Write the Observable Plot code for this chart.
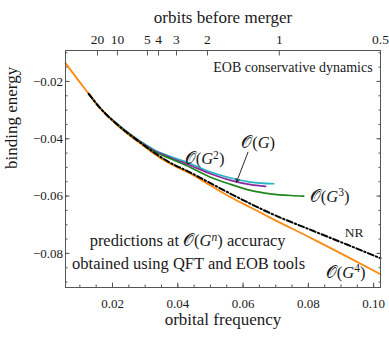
<!DOCTYPE html>
<html><head><meta charset="utf-8">
<script src="https://cdn.jsdelivr.net/npm/d3@7"></script>
<script src="https://cdn.jsdelivr.net/npm/@observablehq/plot@0.6"></script>
<style>body{margin:0;background:#fff}</style>
</head><body><div id="chart"></div>
<script>
// ---- data ----
const freqTicks = [0.02, 0.04, 0.06, 0.08, 0.10];
const energyTicks = [-0.02, -0.04, -0.06, -0.08];
const orbitLabels = ["20", "10", "5", "4", "3", "2", "1", "0.5"];
const orbitFreqs = [0.0154, 0.0215, 0.0307, 0.0341, 0.0396, 0.0491, 0.0711, 0.1021];

const g4Freq = [0.0056,0.0092,0.0127,0.0163,0.0204,0.0245,0.0286,0.0327,0.0368,0.0439,0.0500,0.0562,0.0623,0.0684,0.0816,0.0920,0.1021];
const g4E    = [-0.0136,-0.0191,-0.0243,-0.0295,-0.0342,-0.0382,-0.0417,-0.0452,-0.0482,-0.0522,-0.0563,-0.0604,-0.0640,-0.0676,-0.0751,-0.0812,-0.0873];

const nrFreq = [0.0127,0.0163,0.0204,0.0245,0.0286,0.0327,0.0368,0.0439,0.0500,0.0562,0.0623,0.0684,0.0816,0.0920,0.1021];
const nrE    = [-0.0243,-0.0294,-0.0340,-0.0379,-0.0414,-0.0448,-0.0478,-0.0518,-0.0555,-0.0592,-0.0627,-0.0660,-0.0722,-0.0770,-0.0817];

const g1Freq = [0.0127,0.0163,0.0204,0.0245,0.0286,0.0327,0.0378,0.0439,0.0500,0.0562,0.0623,0.0669];
const g1E    = [-0.0243,-0.0294,-0.0339,-0.0377,-0.0411,-0.0441,-0.0466,-0.0493,-0.0522,-0.0545,-0.0560,-0.0566];

const g2Freq = [0.0127,0.0163,0.0204,0.0245,0.0286,0.0327,0.0378,0.0439,0.0500,0.0562,0.0623,0.0694];
const g2E    = [-0.0243,-0.0294,-0.0338,-0.0376,-0.0409,-0.0438,-0.0462,-0.0487,-0.0516,-0.0537,-0.0551,-0.0557];

const g3Freq = [0.0127,0.0163,0.0204,0.0245,0.0286,0.0327,0.0378,0.0439,0.0500,0.0562,0.0623,0.0684,0.0746,0.0786];
const g3E    = [-0.0243,-0.0294,-0.0340,-0.0378,-0.0413,-0.0444,-0.0470,-0.0500,-0.0534,-0.0559,-0.0580,-0.0592,-0.0598,-0.0600];

// annotation texts
const labelTexts = ["EOB conservative dynamics", "predictions at 𝒪(G^n) accuracy", "obtained using QFT and EOB tools", "NR", "𝒪(G^4)", "𝒪(G^3)", "𝒪(G^2)", "𝒪(G)"];
// ---- end data ----

const series = (fx, ey) => fx.map((f, i) => ({f, e: ey[i]}));
const annPos = [
  {x: 0.0997, y: -0.0151, size: 14},
  {x: 0.0430, y: -0.0755, size: 16.5},
  {x: 0.0433, y: -0.0835, size: 16.5},
  {x: 0.0940, y: -0.0727, size: 13.5},
  {x: 0.0914, y: -0.0866, size: 16.5},
  {x: 0.0865, y: -0.0601, size: 16.5},
  {x: 0.0482, y: -0.0469, size: 16.5},
  {x: 0.0646, y: -0.0413, size: 16.5}
];
const ann = labelTexts.map((t, i) => ({t, ...annPos[i]}));
const arrowData = [{x1: 0.0615, y1: -0.0447, x2: 0.0580, y2: -0.0551}];

const minorX = d3.range(0.01, 0.1024, 0.005);
const minorY = d3.range(-0.09, -0.0092, 0.005);
const orbitMap = new Map(orbitFreqs.map((f, i) => [f, orbitLabels[i]]));
const fmt = d3.format(".2f");
const frameColor = "#555";
const txt = "#1a1a1a";
const serif = "'Liberation Serif', 'Times New Roman', serif";

const chart = Plot.plot({
  width: 389, height: 338,
  marginLeft: 65, marginRight: 9, marginTop: 50, marginBottom: 51,
  style: {fontFamily: serif, fontSize: "13px", color: txt, background: "#fff"},
  x: {domain: [0.0056, 0.1021]},
  y: {domain: [-0.0919, -0.0092]},
  marks: [
    Plot.line(series(g2Freq, g2E), {x: "f", y: "e", stroke: "#22b5c2", strokeWidth: 1.7, curve: "monotone-x"}),
    Plot.line(series(g1Freq, g1E), {x: "f", y: "e", stroke: "#8b2a9e", strokeWidth: 1.7, curve: "monotone-x"}),
    Plot.line(series(g3Freq, g3E), {x: "f", y: "e", stroke: "#1e861e", strokeWidth: 1.7, curve: "monotone-x"}),
    Plot.line(series(g4Freq, g4E), {x: "f", y: "e", stroke: "#ff8a12", strokeWidth: 1.8, curve: "monotone-x"}),
    Plot.line(series(nrFreq, nrE), {x: "f", y: "e", stroke: "#000", strokeWidth: 2, strokeDasharray: "6,2.5,1.5,2.5", curve: "monotone-x"}),
    Plot.arrow(arrowData, {x1: "x1", y1: "y1", x2: "x2", y2: "y2", stroke: "#111", strokeWidth: 0.9, headLength: 6}),
    Plot.text(ann.slice(0, 1), {x: "x", y: "y", text: "t", textAnchor: "end", fontSize: "size", fontFamily: serif, fill: txt}),
    Plot.text(ann.slice(1), {x: "x", y: "y", text: "t", textAnchor: "middle", fontSize: "size", fontFamily: serif, fill: txt}),
    Plot.frame({stroke: frameColor}),
    // bottom axis
    Plot.axisX(minorX, {anchor: "bottom", tickSize: -2.5, fill: "none", label: null, stroke: frameColor}),
    Plot.axisX(freqTicks, {anchor: "bottom", tickSize: -4.5, tickPadding: 15.5, tickFormat: fmt, label: null, stroke: frameColor, fill: txt, fontFamily: serif, fontSize: 13}),
    // top axis
    Plot.axisX(orbitFreqs, {anchor: "top", tickSize: -4.5, tickPadding: 11.5, tickFormat: d => orbitMap.get(d), label: null, stroke: frameColor, fill: txt, fontFamily: serif, fontSize: 13.5}),
    // left axis
    Plot.axisY(minorY, {anchor: "left", tickSize: -2.5, fill: "none", label: null, stroke: frameColor}),
    Plot.axisY(energyTicks, {anchor: "left", tickSize: -4.5, tickPadding: 7, tickFormat: fmt, label: null, stroke: frameColor, fill: txt, fontFamily: serif, fontSize: 13}),
    // right axis
    Plot.axisY(minorY, {anchor: "right", tickSize: -2.5, fill: "none", label: null, stroke: frameColor}),
    Plot.axisY(energyTicks, {anchor: "right", tickSize: -4.5, fill: "none", label: null, stroke: frameColor}),
    // titles
    Plot.text(["orbital frequency"], {frameAnchor: "bottom", dy: 37, fontSize: 17, fontFamily: serif, fill: txt}),
    Plot.text(["orbits before merger"], {frameAnchor: "top", dy: -40, fontSize: 17, fontFamily: serif, fill: txt}),
    Plot.text(["binding energy"], {frameAnchor: "left", dx: -54, rotate: -90, fontSize: 17, fontFamily: serif, fill: txt})
  ]
});

// italic G and superscripts in annotation labels
d3.select(chart).selectAll("text").each(function() {
  const s = this.textContent;
  if (!s.includes("𝒪(G")) return;
  const sel = d3.select(this);
  sel.text(null);
  const re = /(G)|\^(\w)|([^G^]+)/g;
  let m, pendingDy = null;
  const add = (str, italic) => {
    const t = sel.append("tspan").text(str);
    if (italic) t.attr("font-style", "italic");
    if (pendingDy) { t.attr("dy", pendingDy); pendingDy = null; }
    return t;
  };
  while ((m = re.exec(s))) {
    if (m[1]) add("G", true);
    else if (m[2]) {
      add(m[2], /[a-z]/.test(m[2])).attr("dy", "-0.45em").attr("font-size", "0.7em");
      pendingDy = "0.315em";
    } else add(m[3], false);
  }
});

document.getElementById("chart").append(chart);
</script>
</body></html>
